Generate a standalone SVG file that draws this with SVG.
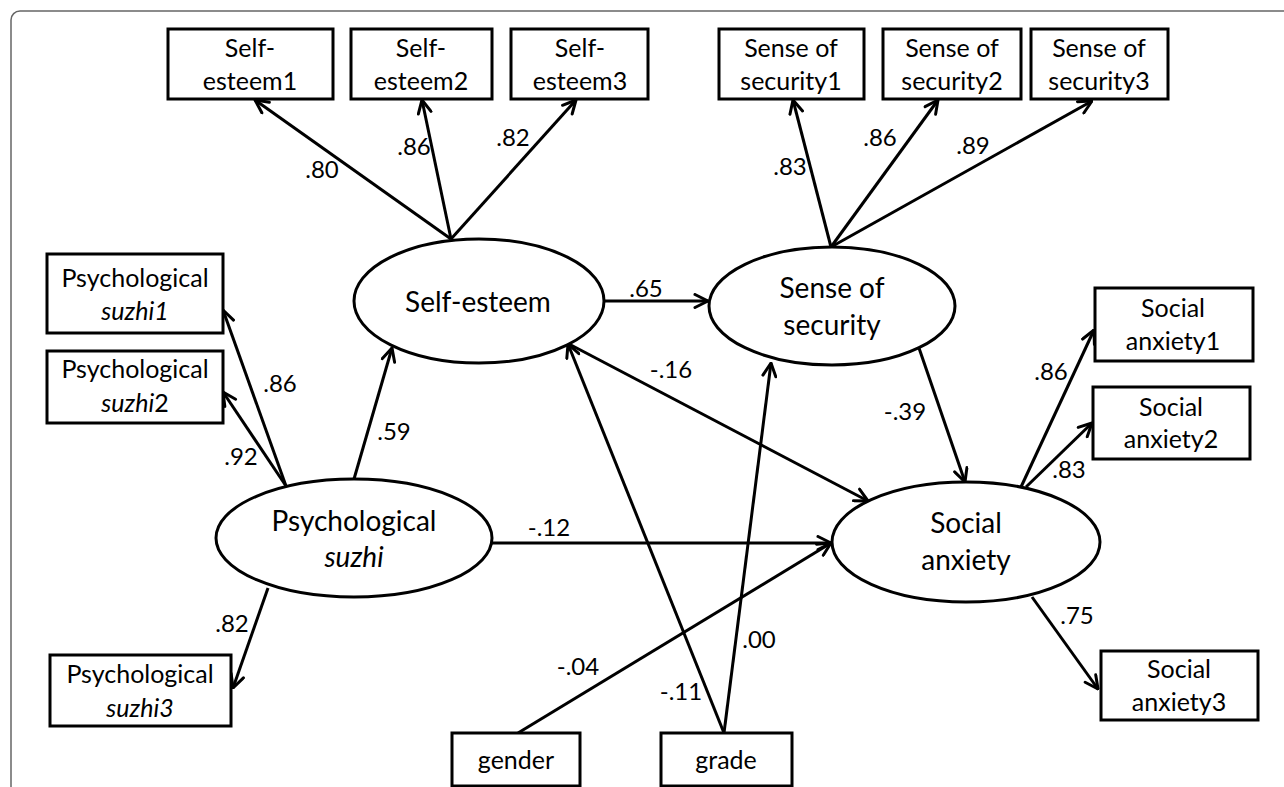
<svg xmlns="http://www.w3.org/2000/svg" width="1284" height="787" viewBox="0 0 1284 787">
<defs>
<style>
.frame{fill:none;stroke:#666;stroke-width:1.5}
.box{fill:#fff;stroke:#000;stroke-width:3}
.ell{fill:#fff;stroke:#000;stroke-width:3}
.bt{font-family:Lato,"Liberation Sans",sans-serif;font-size:25px;fill:#000;text-anchor:middle}
.et{font-family:Lato,"Liberation Sans",sans-serif;font-size:28px;fill:#000;text-anchor:middle}
.lb{font-family:Lato,"Liberation Sans",sans-serif;font-size:24px;fill:#000;text-anchor:middle}
.it{font-style:italic}
.c{fill:none;stroke:#000;stroke-width:3;marker-end:url(#ah)}
</style>
<marker id="ah" viewBox="0 0 16 16" refX="15" refY="8" markerWidth="16" markerHeight="16" markerUnits="userSpaceOnUse" orient="auto">
<path d="M2,1.5 L15,8 L2,14.5" fill="none" stroke="#000" stroke-width="3" stroke-linejoin="round" stroke-linecap="round"/>
</marker>
</defs>
<rect width="1284" height="787" fill="#fff"/>
<rect class="frame" x="11" y="11" width="1320" height="820" rx="9"/>

<g id="connectors">
<line class="c" x1="451" y1="239" x2="255" y2="100"/>
<line class="c" x1="451" y1="239" x2="422" y2="100"/>
<line class="c" x1="451" y1="239" x2="576" y2="100"/>
<line class="c" x1="831" y1="247" x2="793" y2="100"/>
<line class="c" x1="831" y1="247" x2="938" y2="100"/>
<line class="c" x1="831" y1="247" x2="1092" y2="101"/>
<line class="c" x1="604" y1="301" x2="708" y2="301"/>
<line class="c" x1="354" y1="479" x2="392" y2="348"/>
<line class="c" x1="286" y1="486" x2="223" y2="310"/>
<line class="c" x1="286" y1="486" x2="223" y2="392"/>
<line class="c" x1="268" y1="588" x2="233" y2="688"/>
<line class="c" x1="492" y1="543" x2="831" y2="543"/>
<line class="c" x1="569" y1="344" x2="868" y2="501"/>
<line class="c" x1="919" y1="348" x2="965" y2="482"/>
<line class="c" x1="1021" y1="487" x2="1094" y2="330"/>
<line class="c" x1="1026" y1="487" x2="1092" y2="423"/>
<line class="c" x1="1032" y1="597" x2="1098" y2="689"/>
<line class="c" x1="518" y1="733" x2="831" y2="543"/>
<line class="c" x1="724" y1="733" x2="568" y2="344"/>
<line class="c" x1="724" y1="733" x2="771" y2="363"/>
</g>

<g id="labels">
<text class="lb" x="322" y="178">.80</text>
<text class="lb" x="414" y="155">.86</text>
<text class="lb" x="513" y="146">.82</text>
<text class="lb" x="790" y="175">.83</text>
<text class="lb" x="880" y="146">.86</text>
<text class="lb" x="973" y="154">.89</text>
<text class="lb" x="646" y="297">.65</text>
<text class="lb" x="394" y="440">.59</text>
<text class="lb" x="280" y="392">.86</text>
<text class="lb" x="241" y="465">.92</text>
<text class="lb" x="232" y="632">.82</text>
<text class="lb" x="549" y="536">-.12</text>
<text class="lb" x="671" y="378">-.16</text>
<text class="lb" x="905" y="420">-.39</text>
<text class="lb" x="1051" y="380">.86</text>
<text class="lb" x="1069" y="478">.83</text>
<text class="lb" x="1077" y="624">.75</text>
<text class="lb" x="578" y="675">-.04</text>
<text class="lb" x="681" y="700">-.11</text>
<text class="lb" x="759" y="648">.00</text>
</g>

<g id="self-esteem1"><rect class="box" x="168" y="29" width="165" height="70"/><text class="bt" x="250" y="57">Self-</text><text class="bt" x="250" y="90">esteem1</text></g>
<g id="self-esteem2"><rect class="box" x="351" y="29" width="141" height="70"/><text class="bt" x="421" y="57">Self-</text><text class="bt" x="421" y="90">esteem2</text></g>
<g id="self-esteem3"><rect class="box" x="511" y="29" width="137" height="70"/><text class="bt" x="580" y="57">Self-</text><text class="bt" x="580" y="90">esteem3</text></g>
<g id="security1"><rect class="box" x="719" y="29" width="145" height="70"/><text class="bt" x="791" y="57">Sense of</text><text class="bt" x="791" y="90">security1</text></g>
<g id="security2"><rect class="box" x="883" y="29" width="138" height="70"/><text class="bt" x="952" y="57">Sense of</text><text class="bt" x="952" y="90">security2</text></g>
<g id="security3"><rect class="box" x="1031" y="29" width="137" height="70"/><text class="bt" x="1099" y="57">Sense of</text><text class="bt" x="1099" y="90">security3</text></g>

<g id="suzhi1"><rect class="box" x="47" y="254" width="176" height="79"/><text class="bt" x="135" y="287">Psychological</text><text class="bt it" x="135" y="320">suzhi1</text></g>
<g id="suzhi2"><rect class="box" x="47" y="351" width="176" height="72"/><text class="bt" x="135" y="378">Psychological</text><text class="bt" x="135" y="412"><tspan class="it">suzhi</tspan>2</text></g>
<g id="suzhi3"><rect class="box" x="50" y="655" width="181" height="71"/><text class="bt" x="140" y="683">Psychological</text><text class="bt it" x="140" y="717">suzhi3</text></g>

<g id="anxiety1"><rect class="box" x="1095" y="288" width="158" height="73"/><text class="bt" x="1173" y="317">Social</text><text class="bt" x="1173" y="350">anxiety1</text></g>
<g id="anxiety2"><rect class="box" x="1093" y="387" width="157" height="72"/><text class="bt" x="1171" y="416">Social</text><text class="bt" x="1171" y="448">anxiety2</text></g>
<g id="anxiety3"><rect class="box" x="1101" y="651" width="157" height="69"/><text class="bt" x="1179" y="678">Social</text><text class="bt" x="1179" y="711">anxiety3</text></g>

<g id="gender"><rect class="box" x="452" y="733" width="128" height="53"/><text class="bt" x="516" y="769">gender</text></g>
<g id="grade"><rect class="box" x="661" y="733" width="131" height="53"/><text class="bt" x="726" y="769">grade</text></g>

<g id="self-esteem"><ellipse class="ell" cx="479" cy="301" rx="125" ry="62"/><text class="et" x="478" y="312">Self-esteem</text></g>
<g id="security"><ellipse class="ell" cx="832" cy="306" rx="123" ry="59"/><text class="et" x="832" y="298">Sense of</text><text class="et" x="832" y="335">security</text></g>
<g id="social-anxiety"><ellipse class="ell" cx="966" cy="542" rx="134" ry="60"/><text class="et" x="966" y="533">Social</text><text class="et" x="966" y="570">anxiety</text></g>
<g id="suzhi"><ellipse class="ell" cx="354" cy="538" rx="138" ry="59"/><text class="et" x="354" y="531">Psychological</text><text class="et it" x="354" y="567">suzhi</text></g>
</svg>
